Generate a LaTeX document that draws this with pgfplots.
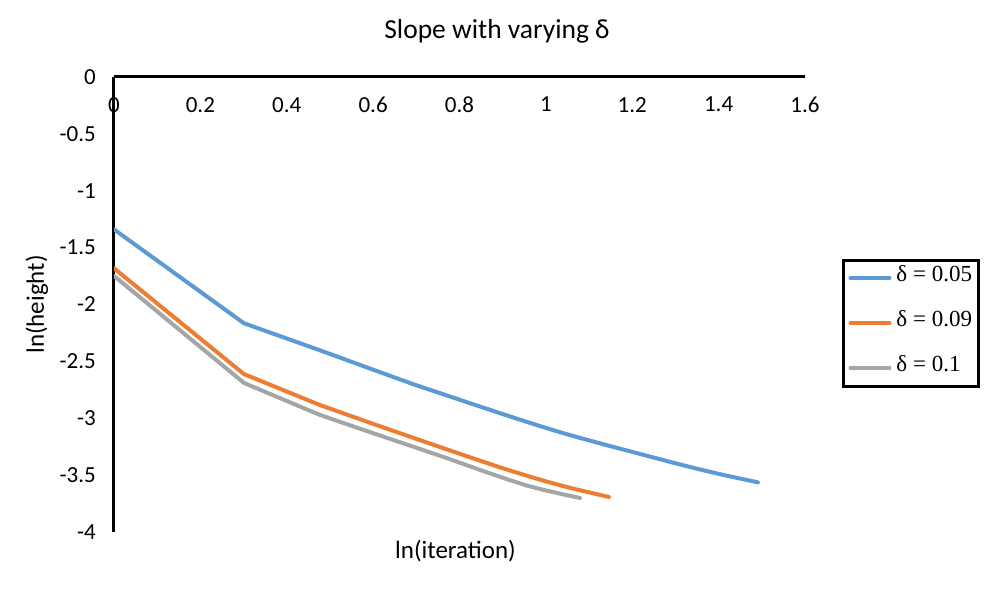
\documentclass[border=0pt]{standalone}
\usepackage{fontspec}
\setmainfont{Carlito}
\newfontfamily\legfont{Liberation Serif}
\usepackage{pgfplots}
\pgfplotsset{compat=1.18}
\definecolor{cblue}{HTML}{5B9BD5}
\definecolor{corange}{HTML}{ED7D31}
\definecolor{cgray}{HTML}{A5A5A5}
\begin{document}
\begin{tikzpicture}
\useasboundingbox (-114pt,-61pt) rectangle (882pt,532pt);
\begin{axis}[
  scale only axis, width=691pt, height=455pt,
  at={(0pt,0pt)}, anchor=south west,
  xmin=0, xmax=1.6, ymin=-4, ymax=0,
  axis x line=top, axis y line=left,
  axis line style={-, line width=3pt, black},
  every outer x axis line/.append style={-},
  every outer y axis line/.append style={-},
  major tick length=0pt,
  xtick={0,0.2,0.4,0.6,0.8,1,1.2,1.4,1.6},
  ytick={-4,-3.5,-3,-2.5,-2,-1.5,-1,-0.5,0},
  /pgf/number format/assume math mode=true,
  tick label style={font=\fontsize{23}{27}\selectfont},
  xticklabel style={anchor=north, inner sep=0pt, yshift=-20pt},
  yticklabel style={anchor=east, inner sep=0pt, xshift=-18pt},
  xlabel={ln(iteration)}, ylabel={ln(height)},
  label style={font=\fontsize{25}{29}\selectfont},
  xlabel style={at={(axis description cs:0.5,0)}, anchor=center, yshift=-19pt, xshift=-4pt},
  ylabel style={at={(axis description cs:0,0.5)}, anchor=center, rotate=0, yshift=77pt},
  title={Slope with varying δ},
  title style={font=\fontsize{27.5}{31}\selectfont, at={(axis description cs:0.5,1)}, anchor=center, yshift=40pt, xshift=37.5pt},
  legend style={at={(axis description cs:1.0535,0.4593)}, anchor=west,
    draw=black, line width=3pt, font=\legfont\fontsize{23}{27}\selectfont,
    inner xsep=5pt, inner ysep=7pt, row sep=23pt, column sep=4pt,
    nodes={inner sep=1pt, text height=13pt, text depth=7pt, anchor=west}},
  legend cell align=left,
  legend image code/.code={\draw[line width=4pt, line cap=round] (2pt,0pt) -- (41pt,0pt);},
  every axis plot/.append style={line width=4pt, line join=round, line cap=round},
]
\addplot[cblue] coordinates {
(0,-1.340) (0.301,-2.165) (0.477,-2.403) (0.602,-2.576) (0.699,-2.709)
(0.778,-2.809) (0.845,-2.894) (0.903,-2.967) (0.954,-3.030) (1.000,-3.085)
(1.041,-3.132) (1.079,-3.173) (1.114,-3.209) (1.146,-3.242) (1.176,-3.272)
(1.204,-3.300) (1.230,-3.326) (1.255,-3.351) (1.279,-3.375) (1.301,-3.397)
(1.322,-3.417) (1.342,-3.436) (1.362,-3.455) (1.380,-3.471) (1.398,-3.487)
(1.415,-3.502) (1.431,-3.515) (1.447,-3.528) (1.462,-3.540) (1.477,-3.552)
(1.491,-3.564)};
\addlegendentry{δ = 0.05}
\addplot[corange] coordinates {
(0,-1.682) (0.301,-2.612) (0.477,-2.884) (0.602,-3.052) (0.699,-3.180)
(0.778,-3.283) (0.845,-3.370) (0.903,-3.443) (0.954,-3.503) (1.000,-3.555)
(1.041,-3.597) (1.079,-3.633) (1.114,-3.664) (1.146,-3.692)};
\addlegendentry{δ = 0.09}
\addplot[cgray] coordinates {
(0,-1.749) (0.301,-2.690) (0.477,-2.971) (0.602,-3.134) (0.699,-3.258)
(0.778,-3.360) (0.845,-3.451) (0.903,-3.527) (0.954,-3.590) (1.000,-3.635)
(1.041,-3.670) (1.079,-3.701)};
\addlegendentry{δ = 0.1}
\end{axis}
\end{tikzpicture}
\end{document}
